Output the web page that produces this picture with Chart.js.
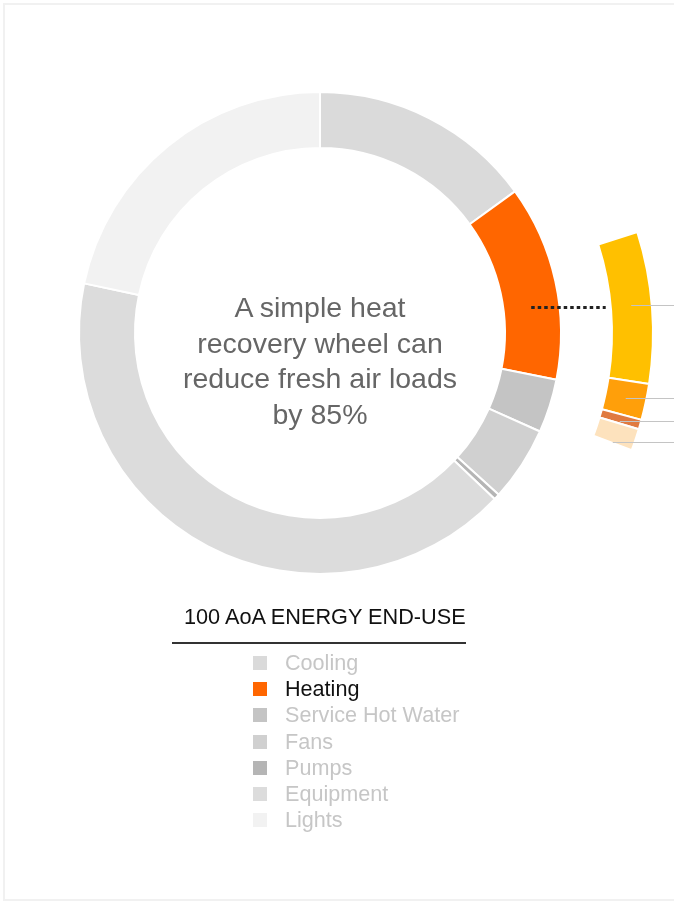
<!DOCTYPE html>
<html>
<head>
<meta charset="utf-8">
<script src="https://cdn.jsdelivr.net/npm/chart.js@4"></script>
<style>
  html, body { margin:0; padding:0; background:#fff; }
  body { width:674px; height:903px; position:relative; overflow:hidden; font-family:"Liberation Sans", Arial, sans-serif; }
  #frame { position:absolute; left:3px; top:3px; width:670px; height:894px; border:2px solid #f1f1f1; border-right:none; }
  #chart { position:absolute; left:-14px; top:-1px; }
  #note { position:absolute; left:150px; top:290px; width:340px; text-align:center; color:#666;
          font-size:28.5px; line-height:35.5px; }
  #title { position:absolute; left:184px; top:604px; font-size:21.7px; color:#111; white-space:nowrap; }
  #rule { position:absolute; left:172px; top:642px; width:294px; height:2px; background:#333; }
  #legend { position:absolute; left:253px; top:650px; }
  .item { height:26.2px; display:flex; align-items:center; font-size:21.6px; white-space:nowrap; }
  .sw { width:14px; height:14px; margin-right:18px; }
</style>
</head>
<body>
<div id="frame"></div>
<canvas id="chart" width="688" height="904"></canvas>
<div id="note">A simple heat<br>recovery wheel can<br>reduce fresh air loads<br>by 85%</div>
<div id="title">100 AoA ENERGY END-USE</div>
<div id="rule"></div>
<div id="legend"></div>
<script>
// ---------- Data (share of the full ring, %) ----------
const categories = ['Cooling','Heating','Service Hot Water','Fans','Pumps','Equipment','Lights'];
const shares     = [15.0, 13.1, 3.6, 5.0, 0.4, 41.2, 21.7];
const colors     = ['#dadada','#ff6600','#c4c4c4','#d0d0d0','#b5b5b5','#dcdcdc','#f2f2f2'];
const highlight  = 'Heating';

// heating breakdown ring (outer), blanks are empty parts of the circle
const subLabels  = [null, 'Part 1', 'Part 2', 'Part 3', 'Part 4', null];
const subShares  = [20.1, 7.35, 1.75, 0.47, 1.05, 69.28];
const subColors  = ['rgba(0,0,0,0)','#ffc000','#ff9f0a','#e07a40','#fde2bd','rgba(0,0,0,0)'];

// where along each breakdown slice its leader line leaves (0 = start, 1 = end)
const leaderAt = [0, 0.47, 0.5, 0.75, 0.97, 0];

// ---------- Leader lines + dotted link ----------
const leaderLines = {
  id: 'leaderLines',
  afterDatasetsDraw(chart){
    const ctx = chart.ctx;
    const sub = chart.getDatasetMeta(0);
    const main = chart.getDatasetMeta(2);
    const right = chart.width;
    let firstY = null, subInner = 0, cx = 0, cy = 0;
    ctx.save();
    ctx.strokeStyle = '#c4c4c4'; ctx.lineWidth = 1;
    sub.data.forEach((arc, i)=>{
      if(!subLabels[i]) return;
      const p = arc.getProps(['x','y','startAngle','endAngle','innerRadius','outerRadius'], true);
      const a = p.startAngle + (p.endAngle - p.startAngle)*leaderAt[i];
      const r = (p.innerRadius + p.outerRadius)/2;
      const px = p.x + Math.cos(a)*r, py = Math.round(p.y + Math.sin(a)*r) + 0.5;
      if(firstY === null){ firstY = py; subInner = p.innerRadius; cx = p.x; cy = p.y; }
      ctx.beginPath(); ctx.moveTo(px, py); ctx.lineTo(right, py); ctx.stroke();
    });
    // dotted link from Heating to its breakdown
    const h = main.data[categories.indexOf(highlight)].getProps(['innerRadius','outerRadius'], true);
    const rm = (h.innerRadius + h.outerRadius)/2;
    const dy = firstY - cy;
    const x0 = cx + Math.sqrt(rm*rm - dy*dy);
    const x1 = cx + Math.sqrt(subInner*subInner - dy*dy) - 5;
    ctx.strokeStyle = '#222'; ctx.lineWidth = 3; ctx.setLineDash([3.5, 3]);
    ctx.beginPath(); ctx.moveTo(x0, firstY + 2); ctx.lineTo(x1, firstY + 2); ctx.stroke();
    ctx.restore();
  }
};

const arcStyle = { borderColor:'#fff', borderWidth:2, hoverBorderWidth:2, offset:0, hoverOffset:0 };

new Chart(document.getElementById('chart').getContext('2d'), {
  type: 'doughnut',
  data: {
    labels: categories,
    datasets: [
      { data: subShares, backgroundColor: subColors, weight: 41, ...arcStyle,
        borderWidth: subLabels.map(l => l ? 2 : 0) },
      { data: [100], backgroundColor: ['rgba(0,0,0,0)'], weight: 51, ...arcStyle, borderWidth:0 },
      { data: shares, backgroundColor: colors, weight: 56, ...arcStyle }
    ]
  },
  options: {
    responsive: false, animation: false,
    cutout: 185,
    layout: { padding: { left:0, top:0, right:20, bottom:236 } },
    plugins: { legend: { display:false }, tooltip: { enabled:false } },
    events: []
  },
  plugins: [leaderLines]
});

// ---------- Legend ----------
const legendEl = document.getElementById('legend');
legendEl.innerHTML = categories.map((c,i)=>`<div class="item">
  <span class="sw" style="background:${colors[i]}"></span>
  <span style="color:${c===highlight?'#111':'#c6c6c6'}">${c}</span></div>`).join('');
</script>
</body>
</html>
